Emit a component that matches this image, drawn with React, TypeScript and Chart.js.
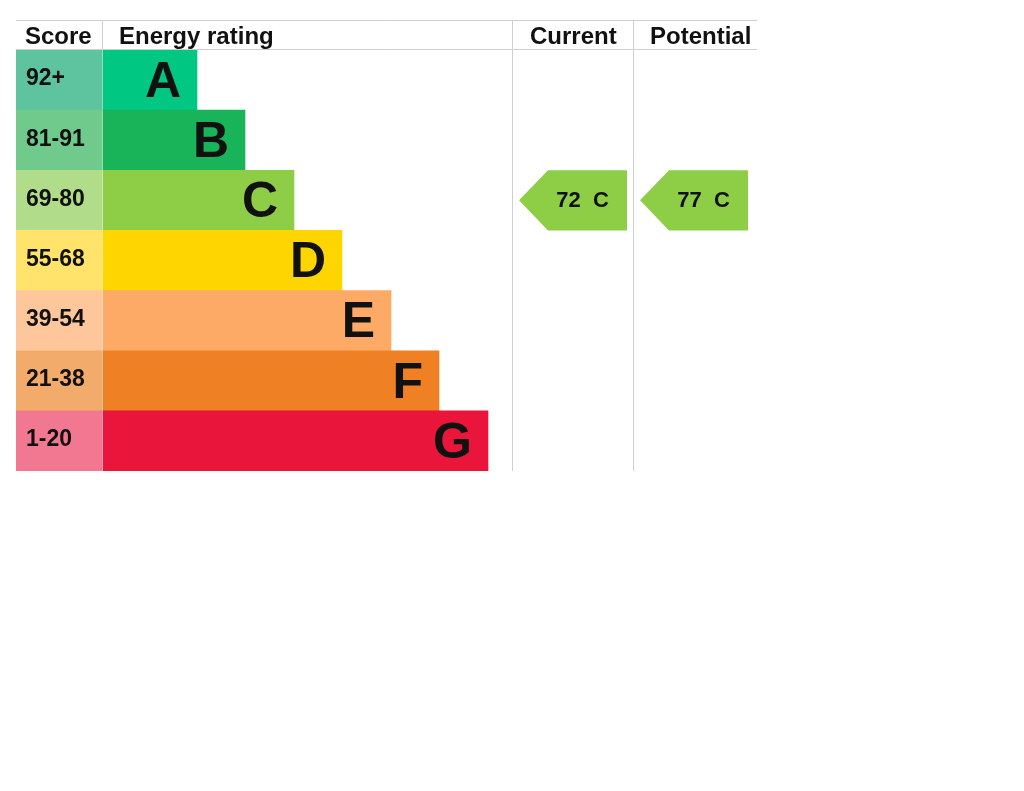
import React, { useEffect, useRef } from "react";
import { Chart, registerables } from "chart.js";

Chart.register(...registerables);

const bands = ["A", "B", "C", "D", "E", "F", "G"];
const scoreLabels = ["92+", "81-91", "69-80", "55-68", "39-54", "21-38", "1-20"];
const bandMinScores = [92, 81, 69, 55, 39, 21, 1];
const barEnds = [181, 229, 278, 326, 375, 423, 472];
const barColors = ["#00c781", "#19b459", "#8dce46", "#ffd500", "#fcaa65", "#ef8023", "#e9153b"];
const scoreColors = ["#5ec4a0", "#6fca8b", "#b1dd8a", "#ffe36a", "#fdc79b", "#f3ab6c", "#f27892"];
const headers = ["Score", "Energy rating", "Current", "Potential"];
const columnEdges = [0, 86, 496, 617, 741];
const currentScore = 72;
const potentialScore = 77;

const FONT = "'Liberation Sans', Arial, sans-serif";

function bandIndex(score: number) {
  for (let i = 0; i < bandMinScores.length; i++) if (score >= bandMinScores[i]) return i;
  return bandMinScores.length - 1;
}

const epcPlugin = {
  id: "epc",
  afterDatasetsDraw(chart: any) {
    const { ctx, chartArea, scales } = chart;
    const xs = scales.x;
    const ys = scales.y;
    const px = (v: number) => xs.getPixelForValue(v);
    const headTop = 20;
    const headBottom = chartArea.top - 1;
    ctx.save();
    // grid lines
    ctx.strokeStyle = "#cfcfcf";
    ctx.lineWidth = 1;
    ctx.beginPath();
    ctx.moveTo(px(columnEdges[0]), headTop + 0.5);
    ctx.lineTo(px(columnEdges[4]), headTop + 0.5);
    ctx.moveTo(px(columnEdges[0]), headBottom + 0.5);
    ctx.lineTo(px(columnEdges[4]), headBottom + 0.5);
    ctx.moveTo(Math.round(px(columnEdges[1])) + 0.5, headTop);
    ctx.lineTo(Math.round(px(columnEdges[1])) + 0.5, headBottom);
    ctx.moveTo(Math.round(px(columnEdges[2])) + 0.5, headTop);
    ctx.lineTo(Math.round(px(columnEdges[2])) + 0.5, chartArea.bottom);
    ctx.moveTo(Math.round(px(columnEdges[3])) + 0.5, headTop);
    ctx.lineTo(Math.round(px(columnEdges[3])) + 0.5, chartArea.bottom);
    ctx.stroke();

    // headers
    ctx.fillStyle = "#111";
    ctx.font = `bold 24px ${FONT}`;
    ctx.textBaseline = "alphabetic";
    ctx.textAlign = "left";
    const pads = [9, 17, 18, 17];
    headers.forEach((h, i) => {
      ctx.fillText(h, px(columnEdges[i]) + pads[i], 44);
    });

    // score labels
    const scoreMeta = chart.getDatasetMeta(0);
    ctx.font = `bold 23px ${FONT}`;
    ctx.textBaseline = "middle";
    scoreMeta.data.forEach((el: any, i: number) => {
      ctx.fillText(scoreLabels[i], px(columnEdges[0]) + 10, el.y - 1);
    });

    // band letters
    const barMeta = chart.getDatasetMeta(1);
    ctx.font = `bold 50px ${FONT}`;
    ctx.textAlign = "right";
    barMeta.data.forEach((el: any, i: number) => {
      ctx.fillText(bands[i], el.x - 16, el.y + 3);
    });

    // arrows
    const drawArrow = (score: number, colLeft: number, colRight: number) => {
      const idx = bandIndex(score);
      const cy = ys.getPixelForValue(idx);
      const half = (ys.getPixelForValue(1) - ys.getPixelForValue(0)) / 2;
      const left = px(colLeft) + 7;
      const right = px(colRight) - 6;
      const tip = 29;
      ctx.fillStyle = barColors[idx];
      ctx.beginPath();
      ctx.moveTo(left, cy);
      ctx.lineTo(left + tip, cy - half);
      ctx.lineTo(right, cy - half);
      ctx.lineTo(right, cy + half);
      ctx.lineTo(left + tip, cy + half);
      ctx.closePath();
      ctx.fill();
      ctx.fillStyle = "#111";
      ctx.font = `bold 22px ${FONT}`;
      ctx.textAlign = "center";
      ctx.textBaseline = "middle";
      ctx.fillText(`${score}  ${bands[idx]}`, (left + tip + right) / 2 - 5, cy + 1);
    };
    drawArrow(currentScore, columnEdges[2], columnEdges[3]);
    drawArrow(potentialScore, columnEdges[3], columnEdges[4] - 3);
    ctx.restore();
  },
};

export default function App() {
  const ref = useRef<HTMLCanvasElement>(null);
  useEffect(() => {
    if (!ref.current) return;
    const chart = new Chart(ref.current, {
      type: "bar",
      data: {
        labels: bands,
        datasets: [
          {
            data: bands.map(() => [columnEdges[0], columnEdges[1]]) as any,
            backgroundColor: scoreColors,
            borderWidth: 0,
            grouped: false,
            barPercentage: 1,
            categoryPercentage: 1,
          } as any,
          {
            data: barEnds.map((e) => [columnEdges[1] + 1, e]) as any,
            backgroundColor: barColors,
            borderWidth: 0,
            grouped: false,
            barPercentage: 1,
            categoryPercentage: 1,
          } as any,
        ],
      },
      options: {
        indexAxis: "y",
        responsive: false,
        animation: false,
        layout: { padding: { left: 16, right: 267, top: 50, bottom: 320 } },
        plugins: { legend: { display: false }, tooltip: { enabled: false } },
        scales: {
          x: { type: "linear", min: 0, max: 741, display: false },
          y: { display: false, offset: true },
        },
      },
      plugins: [epcPlugin],
    });
    return () => chart.destroy();
  }, []);
  return (
    <div style={{ position: "absolute", left: 0, top: 0, width: 1024, height: 791, background: "#fff" }}>
      <canvas ref={ref} width={1024} height={791} />
    </div>
  );
}
